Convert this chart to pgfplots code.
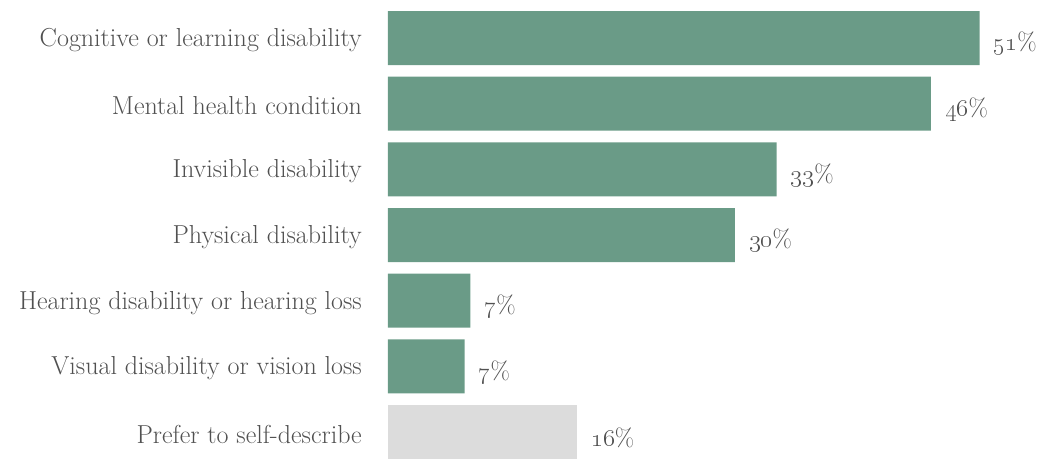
\RequirePackage{fix-cm}
\documentclass[border=0pt]{standalone}
\usepackage{pgfplots}
\pgfplotsset{compat=1.18}
\usepackage{pgfplotstable}
\definecolor{barGreen}{HTML}{6A9B87}
\definecolor{barGray}{HTML}{DCDCDC}
\definecolor{txtGray}{HTML}{505050}
\pgfplotstableread{
y x lab
0 51.0 51
1 46.8 46
2 33.5 33
3 29.9 30
4 7.1 7
5 6.6 7
}\greendata
\pgfplotstableread{
y x lab
6 16.3 16
}\graydata
\begin{document}
\begin{tikzpicture}
\begin{axis}[
  scale only axis,
  width=650pt, height=458pt,
  xmin=0, xmax=56.03,
  ymin=-0.579, ymax=6.396,
  y dir=reverse,
  xbar, bar width=54pt, bar shift=0pt,
  axis line style={draw=none},
  major tick length=0pt,
  xtick=\empty,
  ytick={0,1,2,3,4,5,6},
  yticklabels={Cognitive or learning disability, Mental health condition, Invisible disability, Physical disability, Hearing disability or hearing loss, Visual disability or vision loss, Prefer to self-describe},
  yticklabel style={font=\fontsize{26}{30}\selectfont, text=txtGray, anchor=east, inner sep=0pt, xshift=-26pt, yshift=-2pt},
  nodes near coords={\oldstylenums{\pgfplotspointmeta}\%},
  point meta=explicit symbolic,
  every node near coord/.append style={font=\fontsize{25}{29}\selectfont, text=txtGray, anchor=west, inner sep=0pt, xshift=14pt, yshift=-6pt},
  clip=false,
]
\addplot[fill=barGreen, draw=none] table[x=x, y=y, meta=lab] {\greendata};
\addplot[fill=barGray, draw=none] table[x=x, y=y, meta=lab] {\graydata};
\end{axis}
\pgfresetboundingbox
\path[use as bounding box] ([xshift=-388pt]current axis.south west) rectangle (current axis.north east);
\end{tikzpicture}
\end{document}
